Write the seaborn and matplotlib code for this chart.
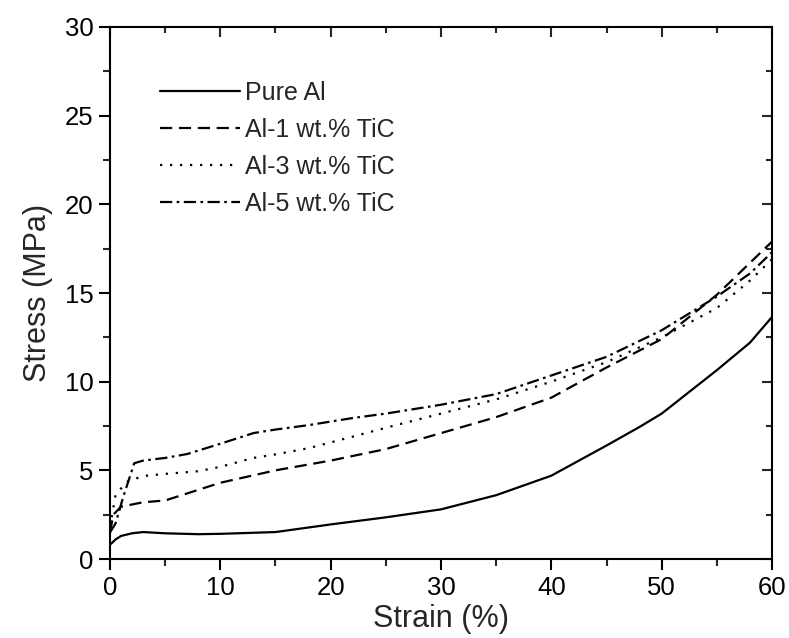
import pandas as pd
import matplotlib
matplotlib.use("Agg")
import matplotlib.pyplot as plt
from matplotlib.ticker import MultipleLocator
import seaborn as sns

### Data ###

pure_strain = [0, 0.5, 1, 2, 3, 5, 8, 10, 15, 20, 25, 30, 35, 37.5, 40, 45, 48, 50, 55, 58, 60]
pure_stress = [0.8, 1.1, 1.3, 1.45, 1.52, 1.45, 1.4, 1.42, 1.52, 1.95, 2.35, 2.8, 3.6, 4.15, 4.7,
               6.4, 7.45, 8.2, 10.65, 12.2, 13.65]

tic1_strain = [0, 0.3, 1, 3, 5, 10, 15, 20, 25, 30, 35, 40, 45, 50, 55, 58, 60]
tic1_stress = [1.5, 2.5, 2.95, 3.2, 3.3, 4.3, 5.0, 5.55, 6.2, 7.1, 8.0, 9.1, 10.8, 12.4, 14.9, 16.7, 17.9]

tic3_strain = [0, 0.5, 1.5, 3, 5, 8, 10, 13, 15, 18, 22, 25, 30, 35, 40, 45, 50, 55, 58, 60]
tic3_stress = [1.8, 3.6, 4.35, 4.68, 4.8, 4.95, 5.2, 5.7, 5.9, 6.25, 6.9, 7.4, 8.2, 9.0, 10.0,
               11.1, 12.5, 14.15, 15.7, 16.9]

tic5_strain = [0, 0.5, 1.2, 2.2, 3, 5, 7, 10, 13, 15, 18, 22, 25, 30, 35, 40, 45, 50, 55, 58, 60]
tic5_stress = [1.5, 2.0, 3.5, 5.4, 5.55, 5.7, 5.92, 6.5, 7.1, 7.3, 7.55, 7.95, 8.2, 8.7, 9.3,
               10.35, 11.4, 12.9, 14.8, 16.1, 17.3]

samples = ["Pure Al", "Al-1 wt.% TiC", "Al-3 wt.% TiC", "Al-5 wt.% TiC"]
strains = [pure_strain, tic1_strain, tic3_strain, tic5_strain]
stresses = [pure_stress, tic1_stress, tic3_stress, tic5_stress]

frames = []
for name, s, y in zip(samples, strains, stresses):
    frames.append(pd.DataFrame({"strain": s, "stress": y, "sample": name}))
df = pd.concat(frames, ignore_index=True)

### Plot ###

sns.set_theme(style="ticks")
plt.rcParams["font.family"] = ["Liberation Sans", "DejaVu Sans"]

fig = plt.figure(figsize=(7.89, 6.38), dpi=100)
ax = fig.add_axes([0.1394, 0.1238, 0.8391, 0.8339])

line_dashes = ["", (5.5, 3), (1, 3.5), (5.5, 2, 1.2, 2)]
sns.lineplot(data=df, x="strain", y="stress", style="sample", style_order=samples,
             dashes=line_dashes, color="black", linewidth=1.6, sort=False,
             estimator=None, ax=ax)

ax.set_xlim(0, 60)
ax.set_ylim(0, 30)
ax.xaxis.set_major_locator(MultipleLocator(10))
ax.xaxis.set_minor_locator(MultipleLocator(5))
ax.yaxis.set_major_locator(MultipleLocator(5))
ax.yaxis.set_minor_locator(MultipleLocator(2.5))
ax.tick_params(which="major", direction="out", length=8, width=1.5, labelsize=18.5,
               colors="black", pad=4)
ax.tick_params(which="minor", direction="out", length=5, width=1.5)

for side in ["left", "bottom", "top", "right"]:
    ax.spines[side].set_visible(True)
    ax.spines[side].set_linewidth(1.5)
    ax.spines[side].set_color("black")

# inward ticks on top and right, no labels
top = ax.secondary_xaxis("top")
top.xaxis.set_major_locator(MultipleLocator(10))
top.xaxis.set_minor_locator(MultipleLocator(5))
top.tick_params(which="major", direction="in", length=7, width=1.5, labeltop=False)
top.tick_params(which="minor", direction="in", length=4, width=1.5)
right = ax.secondary_yaxis("right")
right.yaxis.set_major_locator(MultipleLocator(5))
right.yaxis.set_minor_locator(MultipleLocator(2.5))
right.tick_params(which="major", direction="in", length=7, width=1.5, labelright=False)
right.tick_params(which="minor", direction="in", length=4, width=1.5)

ax.set_xlabel("Strain (%)", fontsize=22, labelpad=3)
ax.set_ylabel("Stress (MPa)", fontsize=22, labelpad=8)

handles, labels = ax.get_legend_handles_labels()
ax.legend(handles, labels, loc="upper left", bbox_to_anchor=(0.075, 0.899), frameon=False,
          fontsize=18, handlelength=3.2, handletextpad=0.2, labelspacing=0.52,
          borderaxespad=0, borderpad=0)

plt.savefig("out.png", dpi=100)
